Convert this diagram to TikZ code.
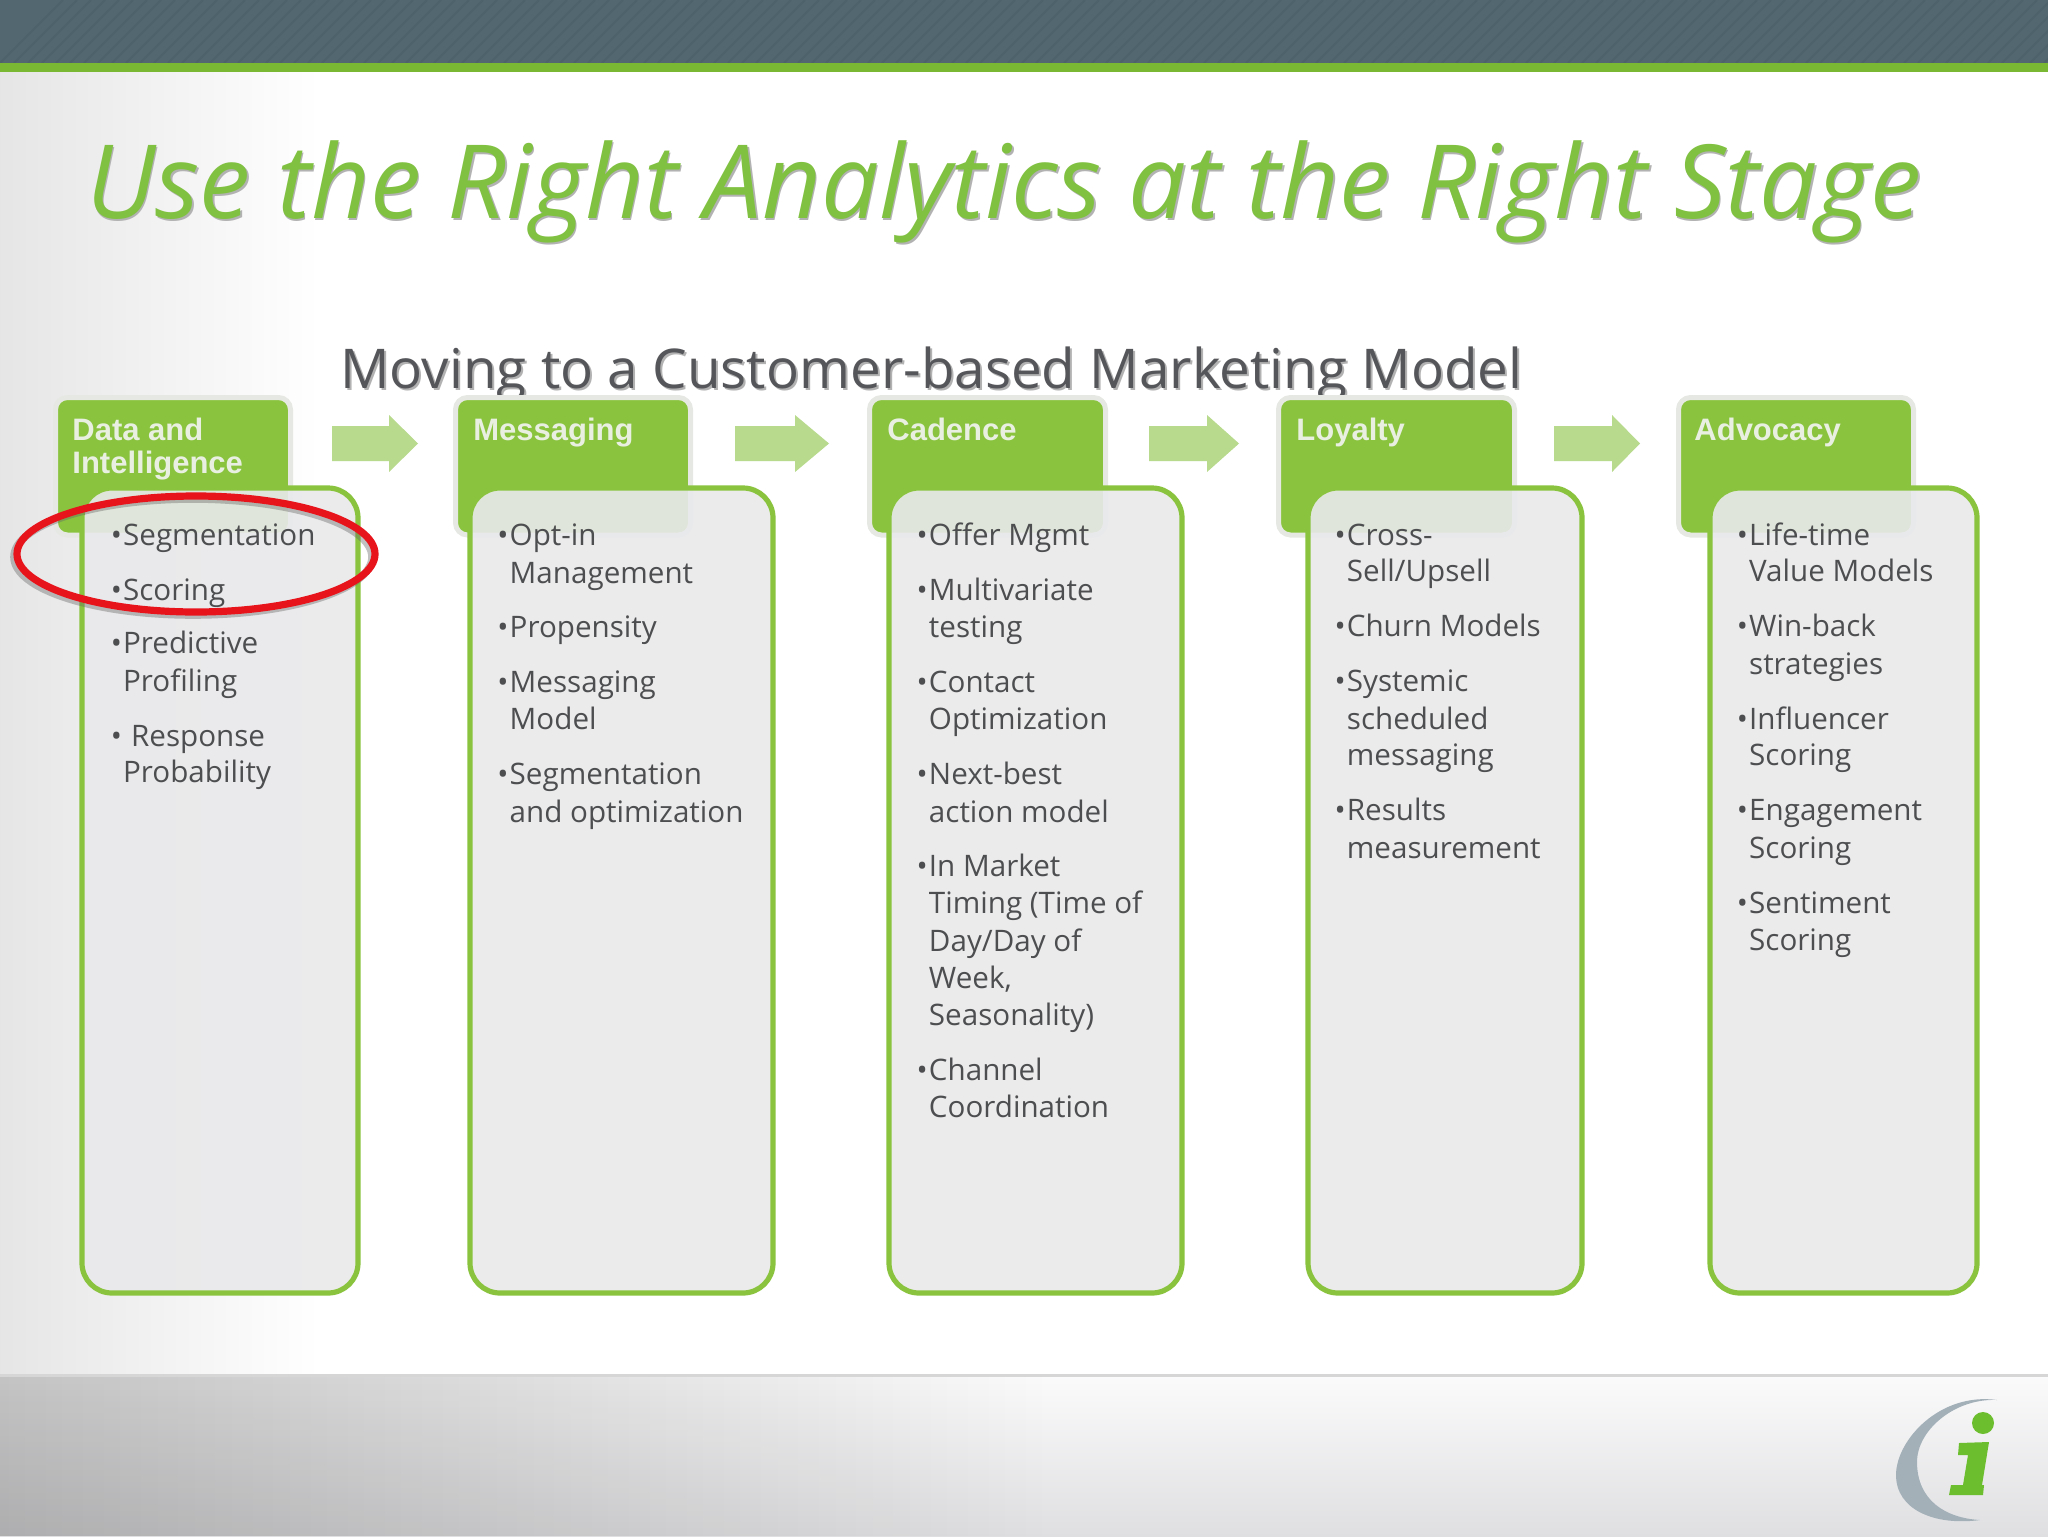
\documentclass[tikz,border=0pt]{standalone}
\usepackage{fontspec}
\setmainfont{Open Sans}
\newfontfamily\arialf{Liberation Sans}
\usetikzlibrary{fadings}
\definecolor{barblue}{HTML}{52676F}
\definecolor{barstripe}{HTML}{4D626B}
\definecolor{linegreen}{HTML}{7AB833}
\definecolor{titlegreen}{HTML}{80C141}
\definecolor{boxgreen}{HTML}{8AC43F}
\definecolor{halo}{HTML}{E6E9E3}
\definecolor{panel}{HTML}{E9E9EB}
\definecolor{arrowgreen}{HTML}{B7DA8C}
\definecolor{bodytext}{HTML}{4D4E50}
\definecolor{subtext}{HTML}{55565A}
\definecolor{headtext}{HTML}{E9F0E2}
\definecolor{ringred}{HTML}{E8141C}
\definecolor{logogrey}{HTML}{A3B0B8}
\definecolor{logogreen}{HTML}{6CBE2E}
\definecolor{footlight}{HTML}{FBFBFC}
\definecolor{footdark}{HTML}{DFDFE1}
\tikzset{
  headbox/.style={fill=boxgreen,draw=halo,line width=2.5pt,rounded corners=6pt},
  panelbox/.style={fill=panel,fill opacity=.9,draw=boxgreen,line width=2.6pt,rounded corners=15pt},
  blockarrow/.style={fill=arrowgreen,draw=none},
  headlabel/.style={anchor=base west,inner sep=0pt,text=headtext,font=\arialf\bfseries\fontsize{15.5}{18}\selectfont},
  bodyline/.style={anchor=base west,inner sep=0pt,text=bodytext,font=\fontsize{14.8}{17}\selectfont},
}
\newcommand{\ColHead}[4]{%
  \draw[headbox] (#1-1.5,397.5) rectangle (#2+2.5,535);
  \draw[panelbox] (#3,488) rectangle (#4,1293);}
\newcommand{\BlockArrow}[3]{%
  \fill[blockarrow] (#1,426) -- (#2,426) -- (#2,415) -- (#3,443.5) -- (#2,472) -- (#2,461) -- (#1,461) -- cycle;}
\newcommand{\Ln}[4]{%
  \pgfmathsetmacro{\lx}{#2*1.306}\pgfmathsetmacro{\ly}{(#3+7.5)*1.306}%
  \node[bodyline] (#1) at (\lx,\ly) {#4};}
\newcommand{\Bu}{\llap{•\kern.6pt}}
\begin{document}
\begin{tikzpicture}[x=.5pt,y=-.5pt]
\useasboundingbox (0,0) rectangle (2048,1536);
% background
\fill[white] (0,0) rectangle (2048,1536);
\shade[left color=black!10,right color=white] (0,72) rectangle (320,1375);
% footer
\shade[top color=footlight,bottom color=footdark] (0,1375) rectangle (2048,1536);
\fill[black,opacity=.22,path fading=east] (0,1375) rectangle (1050,1536);
\draw[black!16,line width=1.5pt] (0,1375) -- (2048,1375);
% top bar
\fill[barblue] (0,0) rectangle (2048,63);
\begin{scope}
\clip (0,0) rectangle (2048,63);
\foreach \k in {0,14,...,2130}{\draw[barstripe,line width=1pt] (\k,63) -- (\k+63,0);}
\end{scope}
\fill[linegreen] (0,63) rectangle (2048,72);
% title
\node[anchor=base west,inner sep=0pt,text=black!30,font=\itshape\fontsize{51.2}{60}\selectfont] (titleshadow) at (87.5,220.5) {Use the Right Analytics at the Right Stage};
\node[anchor=base west,inner sep=0pt,text=titlegreen,font=\itshape\fontsize{51.2}{60}\selectfont] (title) at (86,218) {Use the Right Analytics at the Right Stage};
% subtitle
\begin{scope}
\clip (0,300) rectangle (2048,396);
\node[anchor=base west,inner sep=0pt,text=black!30,font=\fontsize{27.4}{32}\selectfont] (subshadow) at (342,390) {Moving to a Customer-based Marketing Model};
\node[anchor=base west,inner sep=0pt,text=subtext,font=\fontsize{27.4}{32}\selectfont] (subtitle) at (340,388) {Moving to a Customer-based Marketing Model};
\end{scope}
% columns
\ColHead{57}{288}{82}{358}
\ColHead{457}{688}{470}{773}
\ColHead{871}{1103}{889}{1182}
\ColHead{1280}{1512}{1308}{1582}
\ColHead{1680}{1911}{1710}{1977}
\BlockArrow{332}{389}{418}
\BlockArrow{735}{795}{829}
\BlockArrow{1149}{1207}{1239}
\BlockArrow{1554}{1612}{1640}
% header labels
\node[headlabel] (h1a) at (72,440) {Data and};
\node[headlabel] (h1b) at (72,473) {Intelligence};
\node[headlabel] (h2) at (473,440) {Messaging};
\node[headlabel] (h3) at (887,440) {Cadence};
\node[headlabel] (h4) at (1296,440) {Loyalty};
\node[headlabel] (h5) at (1694,440) {Advocacy};
% column 1
\Ln{a1}{94}{410}{\Bu Segmentation}
\Ln{a2}{94}{452}{\Bu Scoring}
\Ln{a3}{94}{493}{\Bu Predictive}
\Ln{a4}{94}{522}{Profiling}
\Ln{a5}{94}{564}{\Bu\hspace{4pt}Response}
\Ln{a6}{94}{592}{Probability}
% column 2
\Ln{b1}{390}{410}{\Bu Opt-in}
\Ln{b2}{390}{439}{Management}
\Ln{b3}{390}{481}{\Bu Propensity}
\Ln{b4}{390}{523}{\Bu Messaging}
\Ln{b5}{390}{551}{Model}
\Ln{b6}{390}{593}{\Bu Segmentation}
\Ln{b7}{390}{622}{and optimization}
% column 3
\Ln{c1}{711}{410}{\Bu Offer Mgmt}
\Ln{c2}{711}{452}{\Bu Multivariate}
\Ln{c3}{711}{481}{testing}
\Ln{c4}{711}{523}{\Bu Contact}
\Ln{c5}{711}{551}{Optimization}
\Ln{c6}{711}{593}{\Bu Next-best}
\Ln{c7}{711}{622}{action model}
\Ln{c8}{711}{664}{\Bu In Market}
\Ln{c9}{711}{692}{Timing (Time of}
\Ln{c10}{711}{721}{Day/Day of}
\Ln{c11}{711}{749}{Week,}
\Ln{c12}{711}{778}{Seasonality)}
\Ln{c13}{711}{820}{\Bu Channel}
\Ln{c14}{711}{848}{Coordination}
% column 4
\Ln{d1}{1031}{410}{\Bu Cross-}
\Ln{d2}{1031}{438}{Sell/Upsell}
\Ln{d3}{1031}{480}{\Bu Churn Models}
\Ln{d4}{1031}{522}{\Bu Systemic}
\Ln{d5}{1031}{551}{scheduled}
\Ln{d6}{1031}{579}{messaging}
\Ln{d7}{1031}{621}{\Bu Results}
\Ln{d8}{1031}{650}{measurement}
% column 5
\Ln{e1}{1339}{410}{\Bu Life-time}
\Ln{e2}{1339}{438}{Value Models}
\Ln{e3}{1339}{480}{\Bu Win-back}
\Ln{e4}{1339}{509}{strategies}
\Ln{e5}{1339}{551}{\Bu Influencer}
\Ln{e6}{1339}{579}{Scoring}
\Ln{e7}{1339}{621}{\Bu Engagement}
\Ln{e8}{1339}{650}{Scoring}
\Ln{e9}{1339}{692}{\Bu Sentiment}
\Ln{e10}{1339}{720}{Scoring}
% red ring
\draw[black!60,opacity=.4,line width=3.8pt] (193,557) ellipse [x radius=179,y radius=58];
\draw[ringred,line width=3.6pt] (196,554) ellipse [x radius=179,y radius=58];
% logo
\fill[logogrey] (1997,1400) .. controls (1940,1392) and (1896,1440) .. (1896,1475) .. controls (1896,1510) and (1935,1526) .. (1980,1520) .. controls (1945,1518) and (1917,1500) .. (1917,1462) .. controls (1917,1430) and (1955,1398) .. (1997,1400) -- cycle;
\fill[logogreen] (1983,1423) circle [radius=11];
\fill[logogreen] (1959,1443) -- (1989,1442) -- (1982,1485) -- (1984,1485) -- (1983,1495) -- (1949,1495) -- (1951,1485) -- (1963,1485) -- (1968,1455) -- (1958,1455) -- cycle;
\end{tikzpicture}
\end{document}
